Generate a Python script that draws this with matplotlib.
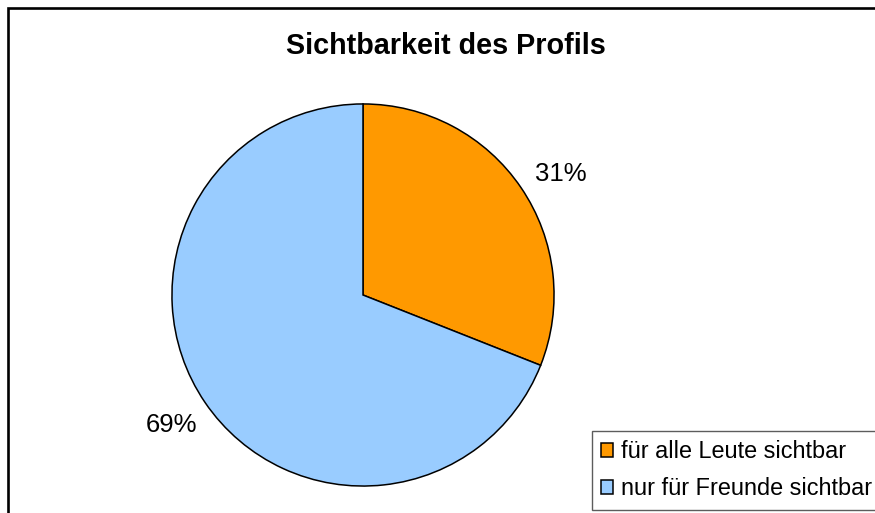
#!/usr/bin/env python3
"""
Kreisdiagramm: Sichtbarkeit des Profils
"""

import matplotlib
matplotlib.use('Agg')
import matplotlib.pyplot as plt
from matplotlib.patches import Rectangle
from matplotlib.transforms import offset_copy

plt.rcParams['font.family'] = ['Liberation Sans', 'DejaVu Sans']

# Daten
kategorien = ['für alle Leute sichtbar', 'nur für Freunde sichtbar']
anteile = [31, 69]
farben = ['#FF9900', '#99CCFF']
titel = 'Sichtbarkeit des Profils'


def plot_chart():
    fig = plt.figure(figsize=(8.75, 5.13), dpi=100)
    fig.patch.set_facecolor('white')

    # Rahmen um das Diagramm (läuft rechts und unten aus dem Bild)
    fig.patches.append(Rectangle((8 / 875, -0.1), 1.2, 1 - 8 / 513 + 0.1,
                                 transform=fig.transFigure, fill=False,
                                 edgecolor='black', linewidth=1.9))

    ax = fig.add_axes([171 / 875, 26 / 513, 384 / 875, 384 / 513])
    wedges, texts, autotexts = ax.pie(
        anteile, colors=farben, startangle=90, counterclock=False,
        autopct='%1.0f%%', pctdistance=1.21, radius=1,
        wedgeprops=dict(edgecolor='black', linewidth=1.1),
        textprops=dict(fontsize=18.5, color='black'))
    ax.set_xlim(-1.005, 1.005)
    ax.set_ylim(-1.005, 1.005)
    ax.set_aspect('equal')

    # Beschriftung 31% etwas nach rechts unten rücken (wie im Original)
    autotexts[0].set_transform(offset_copy(ax.transData, fig=fig,
                                           x=7, y=-9, units='dots'))

    fig.text(446 / 875, 1 - 46 / 513, titel, ha='center', va='center',
             fontsize=20.7, fontweight='bold')

    leg = fig.legend(wedges, kategorien, loc='upper left',
                     bbox_to_anchor=(592 / 875, 1 - 431 / 513),
                     bbox_transform=fig.transFigure, borderaxespad=0,
                     fontsize=16.9, frameon=True, fancybox=False,
                     handlelength=0.51, handleheight=0.51,
                     handletextpad=0.34, labelspacing=0.6, borderpad=0.4)
    leg.get_frame().set_edgecolor('#333333')
    leg.get_frame().set_linewidth(1.0)

    fig.savefig('out.png', dpi=100, facecolor='white')


if __name__ == '__main__':
    plot_chart()
